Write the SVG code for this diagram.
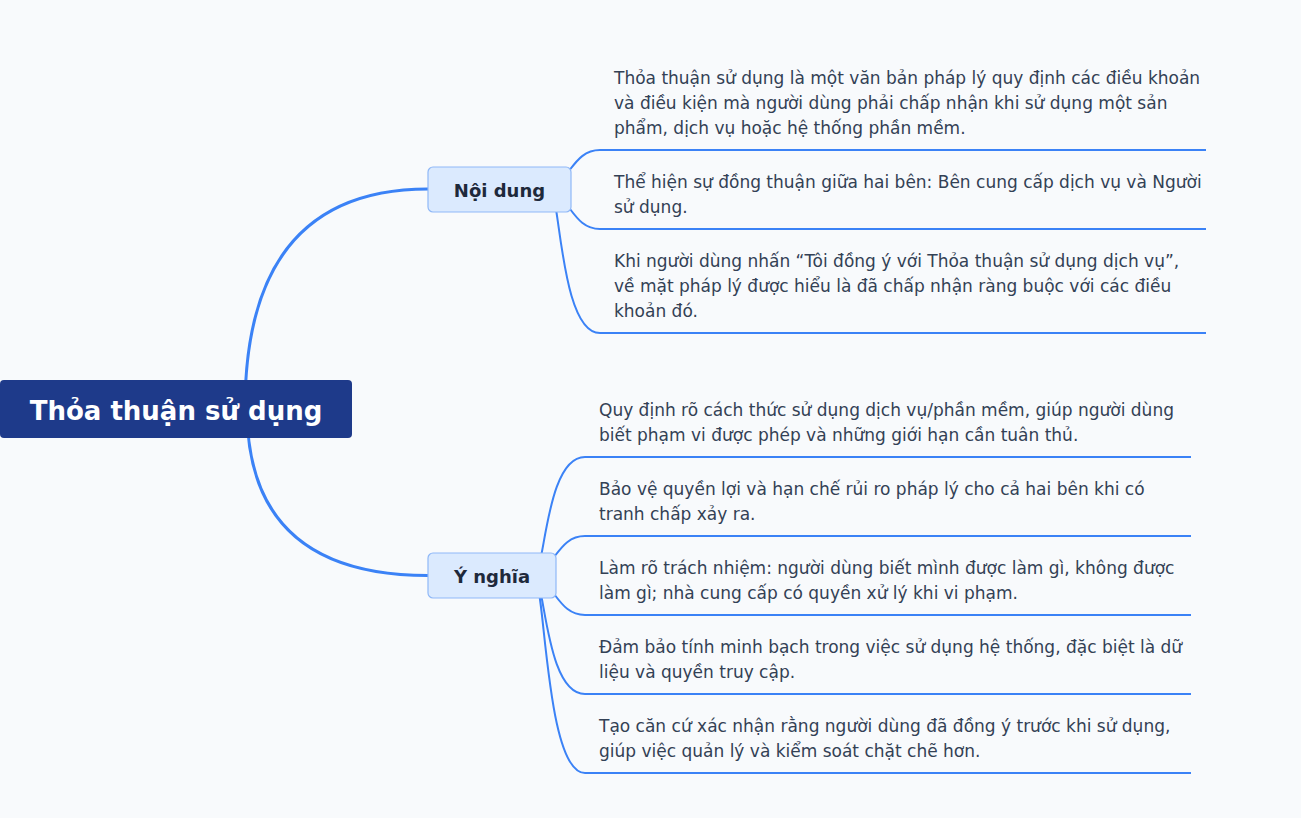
<svg xmlns="http://www.w3.org/2000/svg" width="1301" height="818" viewBox="0 0 1301 818">
<style>
.link{fill:none;stroke:#3b82f6;stroke-width:3;stroke-linecap:round}
.sub{fill:none;stroke:#3b82f6;stroke-width:2;stroke-linecap:butt}
.root rect{fill:#1e3a8a}
.root text{fill:#ffffff;font-family:"DejaVu Sans",sans-serif;font-weight:bold;font-size:26px;text-anchor:middle}
.branch rect{fill:#dbeafe;stroke:#8fb8f7;stroke-width:1.2}
.branch text{fill:#1e293b;font-family:"DejaVu Sans",sans-serif;font-weight:bold;font-size:18px;text-anchor:middle}
.leaf text{fill:#334155;font-family:"DejaVu Sans",sans-serif;font-size:17px}
</style>
<rect x="0" y="0" width="1301" height="818" fill="#f8fafc"/>
<g id="connectors">
<path class="link" d="M245,409 Q245,189 428,189"/>
<path class="link" d="M247,409 Q247,575.5 428,575.5"/>
<path class="sub" d="M540,189 C570,189 570,150 600,150 H1206"/>
<path class="sub" d="M540,189 C570,189 570,229 600,229 H1206"/>
<path class="sub" d="M550,189 C560,189 560,333 600,333 H1206"/>
<path class="sub" d="M534,575.5 C545,575.5 545,457 585,457 H1191"/>
<path class="sub" d="M525,575.5 C555,575.5 555,536 585,536 H1191"/>
<path class="sub" d="M525,575.5 C555,575.5 555,615 585,615 H1191"/>
<path class="sub" d="M534,575.5 C545,575.5 545,694 585,694 H1191"/>
<path class="sub" d="M534,575.5 C545,575.5 545,773 585,773 H1191"/>
</g>
<g id="root" class="root">
<rect x="0" y="380" width="352" height="58" rx="4"/>
<text x="176" y="419.5">Thỏa thuận sử dụng</text>
</g>
<g id="noi-dung" class="branch">
<rect x="428" y="167" width="143" height="45" rx="5"/>
<text x="499.5" y="196.5">Nội dung</text>
</g>
<g id="y-nghia" class="branch">
<rect x="428" y="553" width="128" height="45" rx="5"/>
<text x="492" y="582.5">Ý nghĩa</text>
</g>
<g id="nd-1" class="leaf"><text x="614" y="84">Thỏa thuận sử dụng là một văn bản pháp lý quy định các điều khoản</text><text x="614" y="109">và điều kiện mà người dùng phải chấp nhận khi sử dụng một sản</text><text x="614" y="134">phẩm, dịch vụ hoặc hệ thống phần mềm.</text></g>
<g id="nd-2" class="leaf"><text x="614" y="188">Thể hiện sự đồng thuận giữa hai bên: Bên cung cấp dịch vụ và Người</text><text x="614" y="213">sử dụng.</text></g>
<g id="nd-3" class="leaf"><text x="614" y="267">Khi người dùng nhấn “Tôi đồng ý với Thỏa thuận sử dụng dịch vụ”,</text><text x="614" y="292">về mặt pháp lý được hiểu là đã chấp nhận ràng buộc với các điều</text><text x="614" y="317">khoản đó.</text></g>
<g id="yn-1" class="leaf"><text x="599" y="416">Quy định rõ cách thức sử dụng dịch vụ/phần mềm, giúp người dùng</text><text x="599" y="441">biết phạm vi được phép và những giới hạn cần tuân thủ.</text></g>
<g id="yn-2" class="leaf"><text x="599" y="495">Bảo vệ quyền lợi và hạn chế rủi ro pháp lý cho cả hai bên khi có</text><text x="599" y="520">tranh chấp xảy ra.</text></g>
<g id="yn-3" class="leaf"><text x="599" y="574">Làm rõ trách nhiệm: người dùng biết mình được làm gì, không được</text><text x="599" y="599">làm gì; nhà cung cấp có quyền xử lý khi vi phạm.</text></g>
<g id="yn-4" class="leaf"><text x="599" y="653">Đảm bảo tính minh bạch trong việc sử dụng hệ thống, đặc biệt là dữ</text><text x="599" y="678">liệu và quyền truy cập.</text></g>
<g id="yn-5" class="leaf"><text x="599" y="732">Tạo căn cứ xác nhận rằng người dùng đã đồng ý trước khi sử dụng,</text><text x="599" y="757">giúp việc quản lý và kiểm soát chặt chẽ hơn.</text></g>
</svg>
